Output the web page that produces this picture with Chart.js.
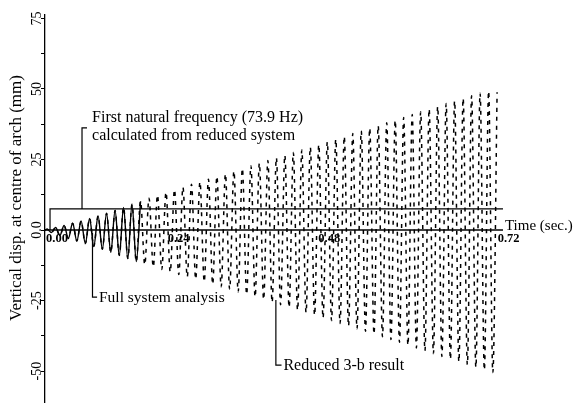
<!DOCTYPE html>
<html>
<head>
<meta charset="utf-8">
<script src="https://cdn.jsdelivr.net/npm/chart.js@4.4.0/dist/chart.umd.min.js"></script>
<style>
  html, body { margin: 0; padding: 0; background: #fff; }
  #wrap { width: 576px; height: 403px; }
</style>
</head>
<body>
<div id="wrap"><canvas id="arch" width="576" height="403"></canvas></div>
<script>
// extremes of the response, time in seconds
const times = [
  0.0000, 0.0034, 0.0102, 0.0169, 0.0237, 0.0305, 0.0372, 0.0440, 0.0508, 0.0575,
  0.0643, 0.0711, 0.0778, 0.0846, 0.0914, 0.0981, 0.1049, 0.1117, 0.1184, 0.1252,
  0.1320, 0.1387, 0.1455, 0.1523, 0.1590, 0.1658, 0.1726, 0.1793, 0.1861, 0.1929,
  0.1996, 0.2064, 0.2132, 0.2199, 0.2267, 0.2335, 0.2402, 0.2470, 0.2538, 0.2605,
  0.2673, 0.2740, 0.2808, 0.2876, 0.2943, 0.3011, 0.3079, 0.3146, 0.3214, 0.3282,
  0.3349, 0.3417, 0.3485, 0.3552, 0.3620, 0.3688, 0.3755, 0.3823, 0.3891, 0.3958,
  0.4026, 0.4094, 0.4161, 0.4229, 0.4297, 0.4364, 0.4432, 0.4500, 0.4567, 0.4635,
  0.4703, 0.4770, 0.4838, 0.4906, 0.4973, 0.5041, 0.5108, 0.5176, 0.5244, 0.5311,
  0.5379, 0.5447, 0.5514, 0.5582, 0.5650, 0.5717, 0.5785, 0.5853, 0.5920, 0.5988,
  0.6056, 0.6123, 0.6191, 0.6259, 0.6326, 0.6394, 0.6462, 0.6529, 0.6597, 0.6665,
  0.6732, 0.6800, 0.6868, 0.6935, 0.7003, 0.7071, 0.7138, 0.7206
];
// vertical displacement (mm) at those times
const disp = [
  0, 0.3, -0.9, 0.9, -1.9, 1.6, -3.0, 2.4, -3.9, 3.2,
  -4.8, 4.1, -5.8, 5.0, -6.8, 5.9, -7.9, 6.9, -9.0, 8.0,
  -10.1, 9.1, -11.2, 10.2, -12.3, 11.3, -13.1, 12.4, -14.0, 13.4,
  -14.9, 14.3, -15.8, 15.2, -16.6, 16.2, -17.4, 17.1, -18.3, 18.0,
  -19.2, 19.0, -20.1, 19.9, -21.0, 20.9, -21.9, 21.8, -22.8, 22.8,
  -23.7, 23.7, -24.6, 24.6, -25.6, 25.6, -26.5, 26.5, -27.4, 27.5,
  -28.4, 28.4, -29.3, 29.4, -30.2, 30.3, -31.2, 31.3, -32.1, 32.2,
  -33.1, 33.2, -34.0, 34.2, -35.0, 35.1, -35.9, 36.1, -36.9, 37.0,
  -37.8, 38.0, -38.8, 38.9, -39.8, 39.9, -40.8, 40.9, -41.8, 41.9,
  -42.8, 42.9, -43.8, 43.8, -44.8, 44.8, -45.8, 45.8, -46.7, 46.7,
  -47.7, 47.6, -48.7, 48.5, -49.6, 49.2, -50.5, 48.8
];
const fullSystemPoints = 24;   // full system curve only drawn solid at the start

const xTickValues = [0, 0.24, 0.48, 0.72];
const xTickLabels = ['0.00', '0.24', '0.48', '0.72'];
const yTickValues = [-50, -37.5, -25, -12.5, 0, 12.5, 25, 37.5, 50, 62.5, 75];
const yLabelValues = [-50, -25, 0, 25, 50, 75];
const yLabelText = ['-50', '-25', '0.0', '25', '50', '75'];
const naturalFreqLevel = 7.5;  // line for first natural frequency

const points = times.map((t, i) => ({ x: t, y: disp[i] }));

const serif = '"Liberation Serif", "Times New Roman", serif';

const overlay = {
  id: 'overlay',
  afterDraw(chart) {
    const { ctx, scales: { x, y } } = chart;
    const X = v => x.getPixelForValue(v);
    const Y = v => y.getPixelForValue(v);
    ctx.save();
    ctx.strokeStyle = '#000';
    ctx.fillStyle = '#000';

    // time axis at zero
    ctx.lineWidth = 1.6;
    ctx.beginPath();
    ctx.moveTo(X(0), Y(0));
    ctx.lineTo(X(0.73), Y(0));
    ctx.stroke();

    // x tick labels
    ctx.font = 'bold 12.5px ' + serif;
    ctx.textBaseline = 'middle';
    xTickValues.forEach((v, i) => {
      const first = i === 0, last = i === xTickValues.length - 1;
      ctx.textAlign = (first || last) ? 'left' : 'right';
      const px = (first || last) ? X(v) + 1 : X(v) - 6;
      ctx.fillText(xTickLabels[i], px, Y(0) + 9);
    });

    ctx.font = '15px ' + serif;
    ctx.textAlign = 'left';
    ctx.fillText('Time (sec.)', X(0.73) + 2, Y(0) - 4);

    // y tick labels, rotated
    ctx.font = '14px ' + serif;
    ctx.textAlign = 'center';
    yLabelValues.forEach((v, i) => {
      ctx.save();
      ctx.translate(37, Y(v));
      ctx.rotate(-Math.PI / 2);
      ctx.fillText(yLabelText[i], 0, 0);
      ctx.restore();
    });

    // y title
    ctx.save();
    ctx.font = '17px ' + serif;
    ctx.translate(17, 198);
    ctx.rotate(-Math.PI / 2);
    ctx.fillText('Vertical disp. at centre of arch (mm)', 0, 0);
    ctx.restore();

    // annotations
    ctx.lineWidth = 1.2;
    ctx.beginPath();
    ctx.moveTo(X(0.008), Y(0));
    ctx.lineTo(X(0.008), Y(naturalFreqLevel));
    ctx.lineTo(X(0.73), Y(naturalFreqLevel));
    ctx.moveTo(X(0.059), Y(naturalFreqLevel));
    ctx.lineTo(X(0.059), Y(36.2));
    ctx.lineTo(X(0.067), Y(36.2));
    ctx.moveTo(X(0.0757), Y(-1));
    ctx.lineTo(X(0.0757), Y(-23.8));
    ctx.lineTo(X(0.083), Y(-23.8));
    ctx.moveTo(X(0.368), Y(-24.8));
    ctx.lineTo(X(0.368), Y(-47.9));
    ctx.lineTo(X(0.377), Y(-47.9));
    ctx.stroke();

    ctx.font = '16px ' + serif;
    ctx.textAlign = 'left';
    ctx.fillText('First natural frequency (73.9 Hz)', X(0.075), Y(39.7));
    ctx.fillText('calculated from reduced system', X(0.075), Y(33.3));
    ctx.font = '15.5px ' + serif;
    ctx.fillText('Full system analysis', X(0.086), Y(-24.2));
    ctx.font = '16px ' + serif;
    ctx.fillText('Reduced 3-b result', X(0.380), Y(-48.1));
    ctx.restore();
  }
};

new Chart(document.getElementById('arch'), {
  type: 'line',
  data: {
    datasets: [{
      label: 'Full system analysis',
      data: points.slice(0, fullSystemPoints),
      borderColor: '#000',
      borderWidth: 1.4,
      pointRadius: 0,
      cubicInterpolationMode: 'monotone',
      fill: false
    }, {
      label: 'Reduced 3-b result',
      data: points,
      borderColor: '#000',
      borderWidth: 1.5,
      borderDash: [4, 5],
      pointRadius: 0,
      cubicInterpolationMode: 'monotone',
      fill: false
    }]
  },
  options: {
    responsive: false,
    animation: false,
    layout: { padding: { top: 15, right: 4, bottom: 0, left: 0 } },
    scales: {
      x: {
        type: 'linear',
        min: 0,
        max: 0.84,
        display: false
      },
      y: {
        type: 'linear',
        min: -61.3,
        max: 76.2,
        afterBuildTicks: scale => { scale.ticks = yTickValues.map(v => ({ value: v })); },
        afterFit: scale => { scale.width = 45; },
        ticks: { display: false },
        grid: { drawOnChartArea: false, tickLength: 4, color: '#000', lineWidth: 1 },
        border: { color: '#000', width: 1.3 }
      }
    },
    plugins: {
      legend: { display: false },
      tooltip: { enabled: false }
    }
  },
  plugins: [overlay]
});
</script>
</body>
</html>
